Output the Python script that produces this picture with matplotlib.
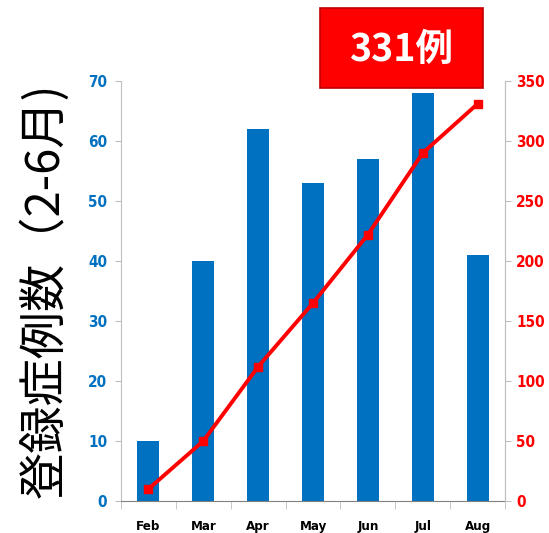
import matplotlib.pyplot as plt
from matplotlib.patches import Rectangle
import numpy as np

plt.rcParams['font.family'] = ['Noto Sans CJK JP', 'DejaVu Sans']

months = ['Feb', 'Mar', 'Apr', 'May', 'Jun', 'Jul', 'Aug']
cases = [10, 40, 62, 53, 57, 68, 41]
cumulative = [10, 50, 112, 165, 222, 290, 331]

BLUE = '#0070C0'
RED = '#FF0000'
GREY = '#BFBFBF'


def style_ticks(labels):
    for lbl in labels:
        lbl.set_family('DejaVu Sans')
        lbl.set_fontweight('bold')
        lbl.set_fontstretch('condensed')


fig = plt.figure(figsize=(5.49, 5.33), dpi=100)
ax = fig.add_axes([0.2204, 0.060, 0.6995, 0.788])
x = np.arange(len(months))

ax.bar(x, cases, width=0.4, color=BLUE, zorder=2)
ax.set_xlim(-0.5, len(months) - 0.5)
ax.set_ylim(0, 70)
ax.set_yticks(range(0, 71, 10))
ax.set_xticks(x)
ax.set_xticklabels(months)
ax.set_xticks(np.arange(-0.5, len(months), 1), minor=True)
ax.tick_params(axis='x', which='major', length=0, pad=14, labelsize=9.5)
ax.tick_params(axis='x', which='minor', length=6, color=GREY, direction='out')
ax.tick_params(axis='y', length=4, color=GREY, labelcolor=BLUE, labelsize=11, pad=6)
style_ticks(ax.get_xticklabels() + ax.get_yticklabels())

for s in ['left', 'right']:
    ax.spines[s].set_color(GREY)
ax.spines['bottom'].set_color('#808080')
ax.spines['top'].set_visible(False)

ax2 = ax.twinx()
ax2.plot(x, cumulative, color=RED, lw=2.8, marker='s', markersize=6, zorder=3)
ax2.set_ylim(0, 350)
ax2.set_yticks(range(0, 351, 50))
ax2.tick_params(axis='y', length=4, color=GREY, labelcolor=RED, labelsize=11, pad=4)
style_ticks(ax2.get_yticklabels())
ax2.spines['right'].set_color(GREY)
ax2.spines['top'].set_visible(False)
ax2.spines['left'].set_visible(False)
ax2.spines['bottom'].set_visible(False)

fig.text(0.082, 0.456, '登録症例数（2-6月)', rotation=90, ha='center', va='center',
         fontsize=34)

fig.patches.append(Rectangle((0.583, 0.835), 0.297, 0.150, transform=fig.transFigure,
                             facecolor=RED, edgecolor='#C00000', lw=1.2))
fig.text(0.731, 0.907, '331例', ha='center', va='center', color='white',
         fontsize=27, fontweight='bold')

fig.savefig('out.png', dpi=100)
